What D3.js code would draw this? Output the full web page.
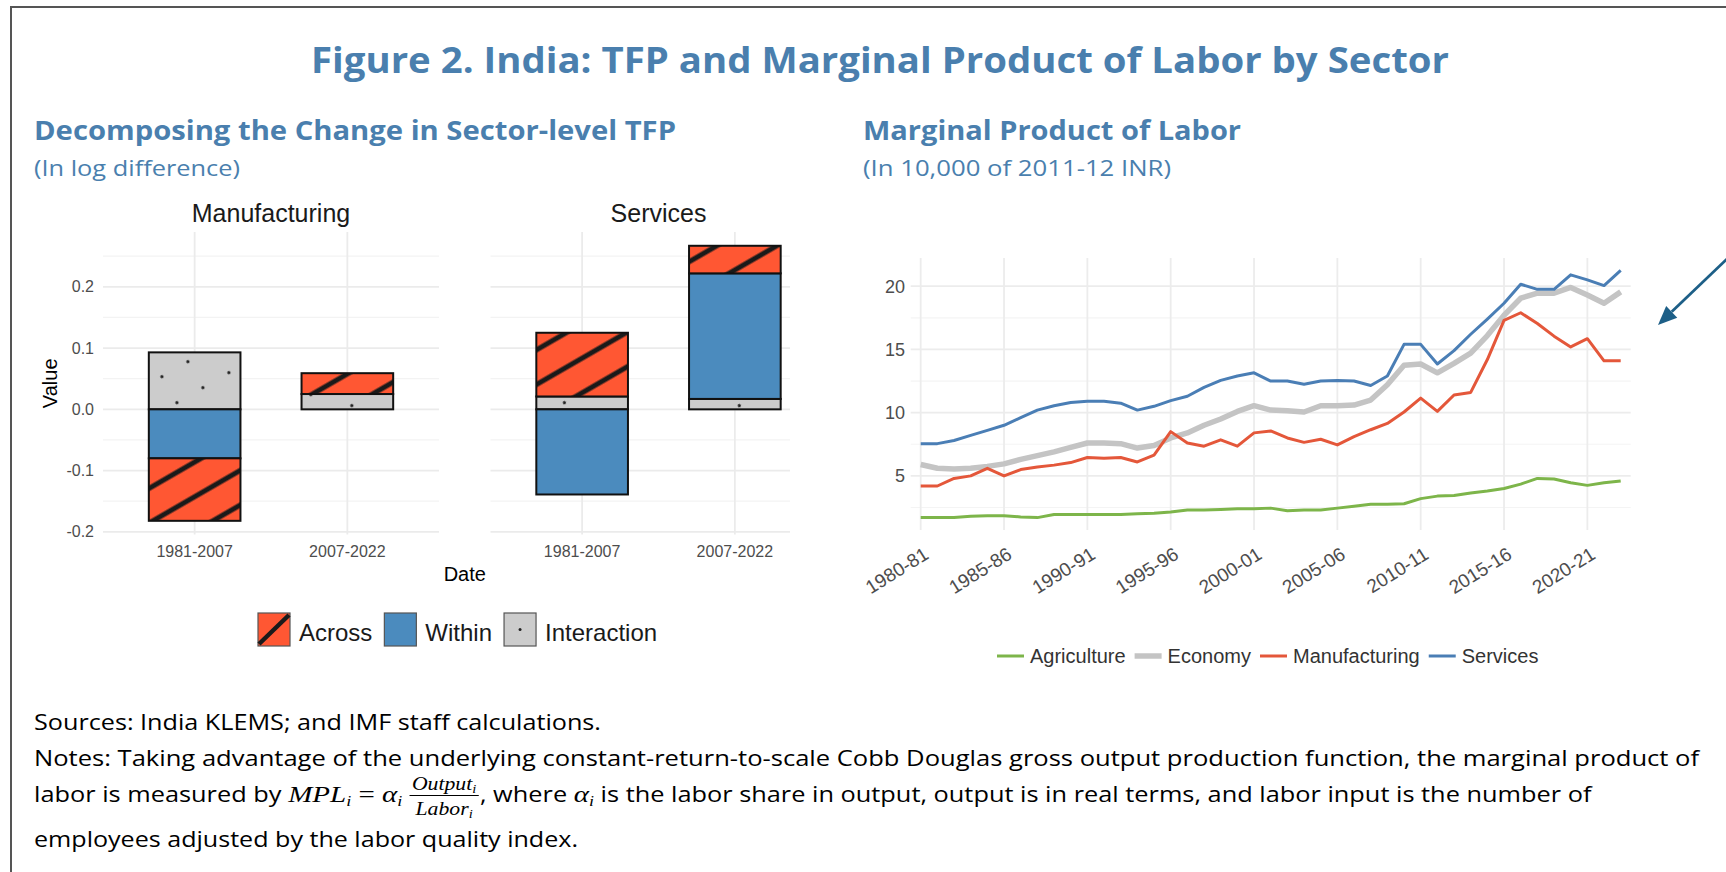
<!DOCTYPE html>
<html>
<head>
<meta charset="utf-8">
<script src="https://cdn.jsdelivr.net/npm/d3@7"></script>
<style>
  body { margin: 0; background: #fff; }
  svg { display: block; }
</style>
</head>
<body>
<script>
// ---------- data: TFP decomposition (log difference) ----------
var sectors = ['Manufacturing', 'Services'];
var periods = ['1981-2007', '2007-2022'];
var components = ['Across', 'Within', 'Interaction'];
var acrossMfg = [-0.102, 0.034];
var withinMfg = [-0.080, 0.000];
var interMfg = [0.093, 0.025];
var acrossSrv = [0.104, 0.045];
var withinSrv = [-0.139, 0.205];
var interSrv = [0.021, 0.017];
var tfpTicks = [-0.2, -0.1, 0, 0.1, 0.2];
var tfpTickLabels = ['-0.2', '-0.1', '0.0', '0.1', '0.2'];
var tfpMinor = [-0.15, -0.05, 0.05, 0.15, 0.25];

// ---------- data: marginal product of labor (10,000 of 2011-12 INR) ----------
var years = ['1980-81','1981-82','1982-83','1983-84','1984-85','1985-86','1986-87','1987-88',
  '1988-89','1989-90','1990-91','1991-92','1992-93','1993-94','1994-95','1995-96','1996-97',
  '1997-98','1998-99','1999-00','2000-01','2001-02','2002-03','2003-04','2004-05','2005-06',
  '2006-07','2007-08','2008-09','2009-10','2010-11','2011-12','2012-13','2013-14','2014-15',
  '2015-16','2016-17','2017-18','2018-19','2019-20','2020-21','2021-22','2022-23'];
var yearTicks = ['1980-81','1985-86','1990-91','1995-96','2000-01','2005-06','2010-11','2015-16','2020-21'];
var agriculture = [1.7,1.7,1.7,1.8,1.85,1.85,1.75,1.7,1.95,1.95,1.95,1.95,1.95,2.0,2.05,2.15,2.3,2.3,
  2.35,2.4,2.4,2.45,2.25,2.3,2.3,2.45,2.6,2.75,2.75,2.8,3.2,3.4,3.45,3.65,3.8,4.0,4.35,4.8,4.75,4.45,
  4.25,4.45,4.6];
var economy = [5.9,5.6,5.55,5.6,5.75,5.95,6.3,6.6,6.9,7.25,7.6,7.6,7.55,7.2,7.4,8.0,8.4,9.0,9.5,10.1,
  10.55,10.2,10.15,10.05,10.55,10.55,10.6,11.0,12.2,13.75,13.85,13.15,13.9,14.7,16.1,17.7,19.05,19.45,
  19.45,19.9,19.3,18.65,19.55];
var manufacturing = [4.2,4.2,4.8,5.0,5.6,5.0,5.5,5.7,5.85,6.05,6.45,6.4,6.45,6.1,6.65,8.5,7.6,7.35,7.85,
  7.35,8.4,8.55,8.0,7.65,7.9,7.45,8.1,8.65,9.15,10.05,11.15,10.1,11.4,11.6,14.2,17.3,17.9,17.05,16.05,
  15.2,15.85,14.1,14.1];
var services = [7.55,7.55,7.8,8.2,8.6,9.0,9.6,10.2,10.55,10.8,10.9,10.9,10.75,10.2,10.5,10.95,11.3,12.0,
  12.55,12.9,13.15,12.5,12.5,12.25,12.5,12.55,12.5,12.15,12.9,15.4,15.4,13.85,14.9,16.2,17.4,18.65,20.15,
  19.75,19.75,20.9,20.5,20.05,21.25];
var seriesNames = ['Agriculture', 'Economy', 'Manufacturing', 'Services'];
var mplTicks = [5, 10, 15, 20];
var mplMinor = [2.5, 7.5, 12.5, 17.5];

// ---------- styles ----------
var W = 1726, H = 872;
var headBlue = '#4a7fae';
var sans = '"Open Sans", "Noto Sans", sans-serif';
var arial = '"Liberation Sans", Arial, sans-serif';
var serif = '"Liberation Serif", "DejaVu Serif", serif';
var fills = { Across: '#ff5733', Within: '#4b8bbe', Interaction: '#cccccc' };
var lineColors = { Agriculture: '#7db54a', Economy: '#c4c4c4', Manufacturing: '#e4573a', Services: '#4a7eb5' };
var lineWidths = { Agriculture: 3, Economy: 5.5, Manufacturing: 3, Services: 3 };

var svg = d3.select('body').append('svg').attr('width', W).attr('height', H);

// frame
svg.append('rect').attr('x', 11).attr('y', 7).attr('width', 1800).attr('height', 1000)
  .attr('fill', 'none').attr('stroke', '#555').attr('stroke-width', 2);

// headings
function heading(x, y, str, size, weight, len, anchor) {
  svg.append('text').attr('x', x).attr('y', y).attr('text-anchor', anchor || 'start')
    .attr('font-family', sans).attr('font-weight', weight).attr('font-size', size)
    .attr('fill', headBlue).attr('textLength', len).attr('lengthAdjust', 'spacingAndGlyphs')
    .text(str);
}
heading(880, 73, 'Figure 2. India: TFP and Marginal Product of Labor by Sector', 36, 700, 1138, 'middle');
heading(34, 140, 'Decomposing the Change in Sector-level TFP', 26, 700, 642);
heading(34, 175.5, '(In log difference)', 22, 400, 206);
heading(863, 140, 'Marginal Product of Labor', 26, 700, 378);
heading(863, 175.5, '(In 10,000 of 2011-12 INR)', 22, 400, 308);

// ---------- patterns ----------
var defs = svg.append('defs');
var stripes = defs.append('pattern').attr('id', 'stripes').attr('patternUnits', 'userSpaceOnUse')
  .attr('width', 30).attr('height', 30).attr('patternTransform', 'rotate(-30)');
stripes.append('rect').attr('width', 30).attr('height', 30).attr('fill', fills.Across);
stripes.append('rect').attr('x', -1).attr('y', 23.5).attr('width', 32).attr('height', 5).attr('fill', '#1a1a1a');
var dots = defs.append('pattern').attr('id', 'dots').attr('patternUnits', 'userSpaceOnUse')
  .attr('width', 30).attr('height', 30).attr('patternTransform', 'rotate(-30)');
dots.append('rect').attr('width', 30).attr('height', 30).attr('fill', fills.Interaction);
dots.append('circle').attr('cx', 12.7).attr('cy', 25.7).attr('r', 1.6).attr('fill', '#222');
var patFill = { Across: 'url(#stripes)', Within: fills.Within, Interaction: 'url(#dots)' };
// the source image of the left chart is cut just right of the Services panel
defs.append('clipPath').attr('id', 'leftClip').append('rect')
  .attr('x', 0).attr('y', 180).attr('width', 790).attr('height', 420);

// ---------- left chart: stacked bars ----------
var tfpValues = {
  Manufacturing: { Across: acrossMfg, Within: withinMfg, Interaction: interMfg },
  Services: { Across: acrossSrv, Within: withinSrv, Interaction: interSrv }
};
var yL = d3.scaleLinear().domain([-0.2045, 0.2895]).range([534.6, 232]);
var panelX = d3.scaleBand().domain(sectors).range([103, 826.5]).paddingInner(0.1329);
var pw = panelX.bandwidth();
var xCat = d3.scaleBand().domain(periods).range([0, pw]).paddingInner(0.4).paddingOuter(0.3);

function stackBar(sector, pi) {
  var pos = 0, neg = 0, segs = [];
  ['Interaction', 'Within', 'Across'].forEach(function(k) {
    var v = tfpValues[sector][k][pi];
    if (v === 0) return;
    if (v > 0) { segs.push({ key: k, y0: pos, y1: pos + v }); pos += v; }
    else { segs.push({ key: k, y0: neg + v, y1: neg }); neg += v; }
  });
  return segs;
}

var gL = svg.append('g').attr('clip-path', 'url(#leftClip)');
sectors.forEach(function(sector) {
  var g = gL.append('g').attr('transform', 'translate(' + panelX(sector) + ',0)');
  // grid
  g.selectAll('.minor').data(tfpMinor).enter().append('line')
    .attr('x1', 0).attr('x2', pw).attr('y1', yL).attr('y2', yL)
    .attr('stroke', '#f3f3f3').attr('stroke-width', 1.2);
  g.selectAll('.major').data(tfpTicks).enter().append('line')
    .attr('x1', 0).attr('x2', pw).attr('y1', yL).attr('y2', yL)
    .attr('stroke', '#ebebeb').attr('stroke-width', 1.8);
  g.selectAll('.vgrid').data(periods).enter().append('line')
    .attr('x1', function(d) { return xCat(d) + xCat.bandwidth() / 2; })
    .attr('x2', function(d) { return xCat(d) + xCat.bandwidth() / 2; })
    .attr('y1', yL.range()[1]).attr('y2', yL.range()[0])
    .attr('stroke', '#ebebeb').attr('stroke-width', 1.8);
  // bars
  periods.forEach(function(p, pi) {
    g.selectAll(null).data(stackBar(sector, pi)).enter().append('rect')
      .attr('x', xCat(p)).attr('width', xCat.bandwidth())
      .attr('y', function(d) { return yL(d.y1); })
      .attr('height', function(d) { return yL(d.y0) - yL(d.y1); })
      .attr('fill', function(d) { return patFill[d.key]; })
      .attr('stroke', '#111').attr('stroke-width', 2);
  });
  // category labels
  g.selectAll('.cat').data(periods).enter().append('text')
    .attr('x', function(d) { return xCat(d) + xCat.bandwidth() / 2; })
    .attr('y', 557).attr('text-anchor', 'middle')
    .attr('font-family', arial).attr('font-size', 16).attr('fill', '#4d4d4d')
    .text(function(d) { return d; });
  // facet title
  g.append('text').attr('x', pw / 2).attr('y', 222).attr('text-anchor', 'middle')
    .attr('font-family', arial).attr('font-size', 25).attr('fill', '#1a1a1a').text(sector);
});

// y axis labels (left)
svg.selectAll('.ytl').data(tfpTicks).enter().append('text')
  .attr('x', 94).attr('y', function(d) { return yL(d) + 5.5; })
  .attr('text-anchor', 'end').attr('font-family', arial).attr('font-size', 16).attr('fill', '#4d4d4d')
  .text(function(d, i) { return tfpTickLabels[i]; });
svg.append('text').attr('transform', 'translate(57,' + ((yL.range()[0] + yL.range()[1]) / 2) + ') rotate(-90)')
  .attr('text-anchor', 'middle').attr('font-family', arial).attr('font-size', 20).attr('fill', '#000').text('Value');
svg.append('text').attr('x', (panelX.range()[0] + panelX.range()[1]) / 2).attr('y', 581)
  .attr('text-anchor', 'middle').attr('font-family', arial).attr('font-size', 20).attr('fill', '#000').text('Date');

// left legend
var lx = 258;
components.forEach(function(c) {
  var kg = svg.append('g');
  kg.append('rect').attr('x', lx).attr('y', 613).attr('width', 32).attr('height', 33)
    .attr('fill', fills[c]).attr('stroke', '#555').attr('stroke-width', 1.2);
  if (c === 'Across') {
    kg.append('line').attr('x1', lx + 1).attr('y1', 644).attr('x2', lx + 31).attr('y2', 615)
      .attr('stroke', '#1a1a1a').attr('stroke-width', 4.5);
  }
  if (c === 'Interaction') {
    kg.append('circle').attr('cx', lx + 16).attr('cy', 629.5).attr('r', 1.5).attr('fill', '#222');
  }
  var t = svg.append('text').attr('x', lx + 41).attr('y', 641)
    .attr('font-family', arial).attr('font-size', 24).attr('fill', '#1a1a1a').text(c);
  lx += 41 + t.node().getComputedTextLength() + 12;
});

// ---------- right chart: lines ----------
var xR = d3.scalePoint().domain(years).range([910.7, 1630.7]).padding(0.6);
var yR = d3.scaleLinear().domain([0.72, 22.23]).range([530, 258]);
var gR = svg.append('g');
gR.selectAll('.minor').data(mplMinor).enter().append('line')
  .attr('x1', xR.range()[0]).attr('x2', xR.range()[1]).attr('y1', yR).attr('y2', yR)
  .attr('stroke', '#f4f4f4').attr('stroke-width', 1.2);
gR.selectAll('.major').data(mplTicks).enter().append('line')
  .attr('x1', xR.range()[0]).attr('x2', xR.range()[1]).attr('y1', yR).attr('y2', yR)
  .attr('stroke', '#ececec').attr('stroke-width', 1.8);
gR.selectAll('.vgrid').data(yearTicks).enter().append('line')
  .attr('x1', xR).attr('x2', xR).attr('y1', yR.range()[1]).attr('y2', yR.range()[0])
  .attr('stroke', '#ececec').attr('stroke-width', 1.8);

var seriesData = { Agriculture: agriculture, Economy: economy, Manufacturing: manufacturing, Services: services };
var line = d3.line().x(function(d) { return xR(d.year); }).y(function(d) { return yR(d.v); });
seriesNames.forEach(function(name) {
  var pts = years.map(function(y, i) { return { year: y, v: seriesData[name][i] }; });
  gR.append('path').datum(pts).attr('d', line).attr('fill', 'none')
    .attr('stroke', lineColors[name]).attr('stroke-width', lineWidths[name])
    .attr('stroke-linejoin', 'round');
});

gR.selectAll('.ytr').data(mplTicks).enter().append('text')
  .attr('x', 905).attr('y', function(d) { return yR(d) + 6.5; }).attr('text-anchor', 'end')
  .attr('font-family', arial).attr('font-size', 18).attr('fill', '#4d4d4d')
  .text(function(d) { return d; });
gR.selectAll('.xtr').data(yearTicks).enter().append('text')
  .attr('transform', function(d) { return 'translate(' + (xR(d) + 2) + ',546) rotate(-32)'; })
  .attr('dy', '0.72em').attr('text-anchor', 'end')
  .attr('font-family', arial).attr('font-size', 19).attr('fill', '#4d4d4d')
  .text(function(d) { return d; });

// right legend
var rx = 997;
seriesNames.forEach(function(name) {
  gR.append('line').attr('x1', rx).attr('x2', rx + 27).attr('y1', 656).attr('y2', 656)
    .attr('stroke', lineColors[name]).attr('stroke-width', lineWidths[name]);
  var t = gR.append('text').attr('x', rx + 33).attr('y', 663)
    .attr('font-family', arial).attr('font-size', 20).attr('fill', '#333').text(name);
  rx += 33 + t.node().getComputedTextLength() + 9;
});

// arrow annotation
var tip = [1658, 325], tail = [1730, 256];
var dx = tip[0] - tail[0], dy = tip[1] - tail[1], dl = Math.sqrt(dx * dx + dy * dy);
var ux = dx / dl, uy = dy / dl;
var hb = [tip[0] - 19 * ux, tip[1] - 19 * uy];
svg.append('line').attr('x1', tail[0]).attr('y1', tail[1]).attr('x2', hb[0]).attr('y2', hb[1])
  .attr('stroke', '#1d5f87').attr('stroke-width', 2.8);
svg.append('polygon').attr('fill', '#1d5f87')
  .attr('points', [tip, [hb[0] - 8 * uy, hb[1] + 8 * ux], [hb[0] + 8 * uy, hb[1] - 8 * ux]].map(function(p) { return p.join(','); }).join(' '));

// ---------- notes ----------
var noteSize = 21;
function note(y, str, len) {
  svg.append('text').attr('x', 34).attr('y', y).attr('font-family', sans).attr('font-size', noteSize)
    .attr('fill', '#000').attr('textLength', len).attr('lengthAdjust', 'spacingAndGlyphs').text(str);
}
note(730, 'Sources: India KLEMS; and IMF staff calculations.', 567);
note(766, 'Notes: Taking advantage of the underlying constant-return-to-scale Cobb Douglas gross output production function, the marginal product of', 1665);
note(847, 'employees adjusted by the labor quality index.', 544);

var l3 = svg.append('g');
var cx = 0, b = 802;
function piece(str, font, size, style, shift) {
  var t = l3.append('text').attr('x', cx).attr('y', b + (shift || 0)).attr('font-family', font)
    .attr('font-size', size).attr('font-style', style || 'normal').attr('fill', '#000')
    .attr('xml:space', 'preserve').style('white-space', 'pre').text(str);
  cx += t.node().getComputedTextLength();
  return t;
}
piece('labor is measured by ', sans, noteSize);
piece('MPL', serif, 24, 'italic');
piece('i', serif, 15, 'italic', 4);
piece(' = ', serif, 24);
piece('\u03b1', serif, 24, 'italic');
piece('i', serif, 15, 'italic', 4);
cx += 6;
function fracPart(y, word) {
  var t = l3.append('text').attr('y', y).attr('font-family', serif).attr('font-size', 18)
    .attr('font-style', 'italic').attr('fill', '#000');
  t.append('tspan').text(word);
  t.append('tspan').attr('font-size', 12).attr('dy', 3).text('i');
  return t;
}
var num = fracPart(b - 12, 'Output'), den = fracPart(b + 13, 'Labor');
var fw = Math.max(num.node().getComputedTextLength(), den.node().getComputedTextLength()) + 4;
num.attr('x', cx + (fw - num.node().getComputedTextLength()) / 2);
den.attr('x', cx + (fw - den.node().getComputedTextLength()) / 2);
l3.append('line').attr('x1', cx).attr('x2', cx + fw).attr('y1', b - 6.5).attr('y2', b - 6.5)
  .attr('stroke', '#000').attr('stroke-width', 1);
cx += fw + 1;
piece(', where ', sans, noteSize);
piece('\u03b1', serif, 24, 'italic');
piece('i', serif, 15, 'italic', 4);
piece(' is the labor share in output, output is in real terms, and labor input is the number of', sans, noteSize);
l3.attr('transform', 'translate(34,0) scale(' + (1558 / cx) + ',1)');
</script>
</body>
</html>
